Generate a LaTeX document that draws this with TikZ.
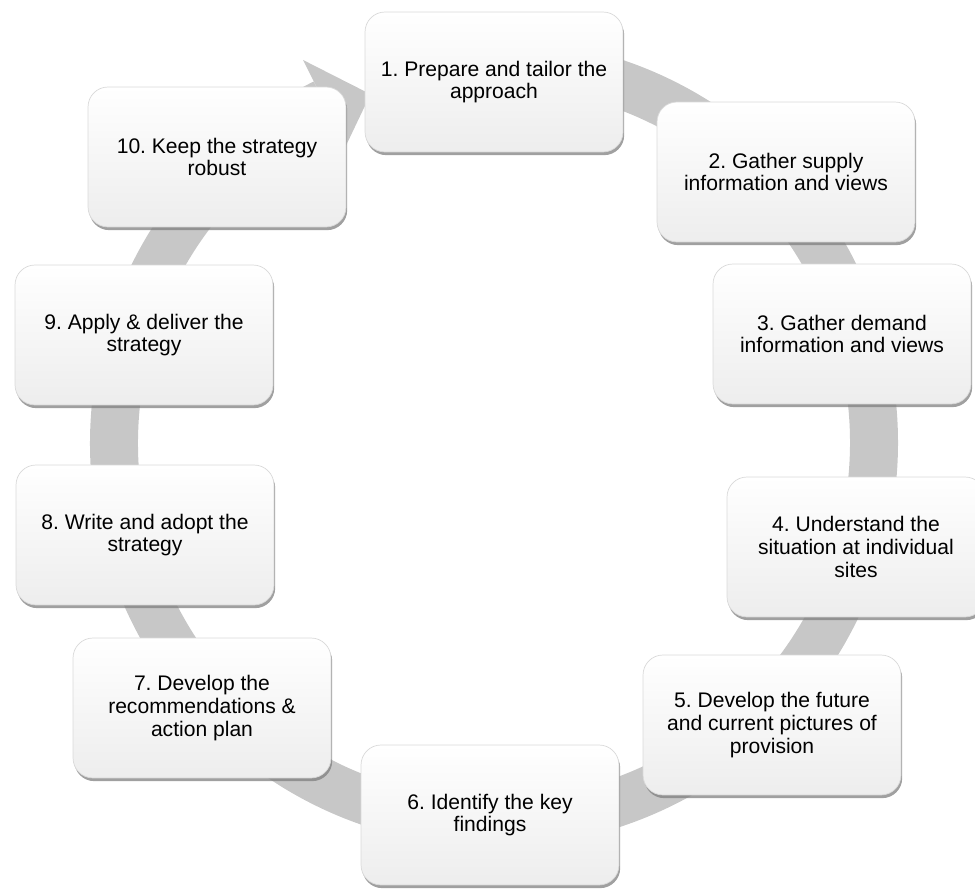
\documentclass[tikz,border=0pt]{standalone}
\usepackage{fontspec}
\setmainfont{Liberation Sans}
\usepackage{tikz}
\usetikzlibrary{shadows}
\definecolor{ringgray}{RGB}{199,199,199}
\tikzstyle{stepbox} = [draw=black!15, line width=0.4pt, rounded corners=0.4cm, top color=white, middle color=white, bottom color=black!7, minimum width=5.16cm, minimum height=2.8cm, align=center, font=\fontsize{12}{13}\selectfont, drop shadow={shadow xshift=0.7pt, shadow yshift=-1.8pt, fill=black!50, opacity=0.75}]
\tikzstyle{ring} = [draw=ringgray, line width=0.96cm]

\begin{document}
\frenchspacing
\begin{tikzpicture}[x=0.02cm, y=0.02cm]
\useasboundingbox (0,0) rectangle (975,889);

\coordinate (c_0) at (494,446);
\draw[ring, shift={(c_0)}] (85:380) arc[start angle=85, end angle=-243.5, radius=380];
\fill[ringgray, shift={(c_0)}] (116.5:428) -- (109.5:370) -- (116.5:332) -- cycle;

\node[stepbox] (s_1) at (494,807) {1. Prepare and tailor the\\approach};
\node[stepbox] (s_2) at (786,717) {2. Gather supply\\information and views};
\node[stepbox] (s_3) at (842,555) {3. Gather demand\\information and views};
\node[stepbox] (s_4) at (856,342) {4. Understand the\\situation at individual\\sites};
\node[stepbox] (s_5) at (772,164) {5. Develop the future\\and current pictures of\\provision};
\node[stepbox] (s_6) at (490,74) {6. Identify the key\\findings};
\node[stepbox] (s_7) at (202,181) {7. Develop the\\recommendations \&\\action plan};
\node[stepbox] (s_8) at (145,354) {8. Write and adopt the\\strategy};
\node[stepbox] (s_9) at (144,554) {9. Apply \& deliver the\\strategy};
\node[stepbox] (s_10) at (217,732) {10. Keep the strategy\\robust};

\end{tikzpicture}
\end{document}
